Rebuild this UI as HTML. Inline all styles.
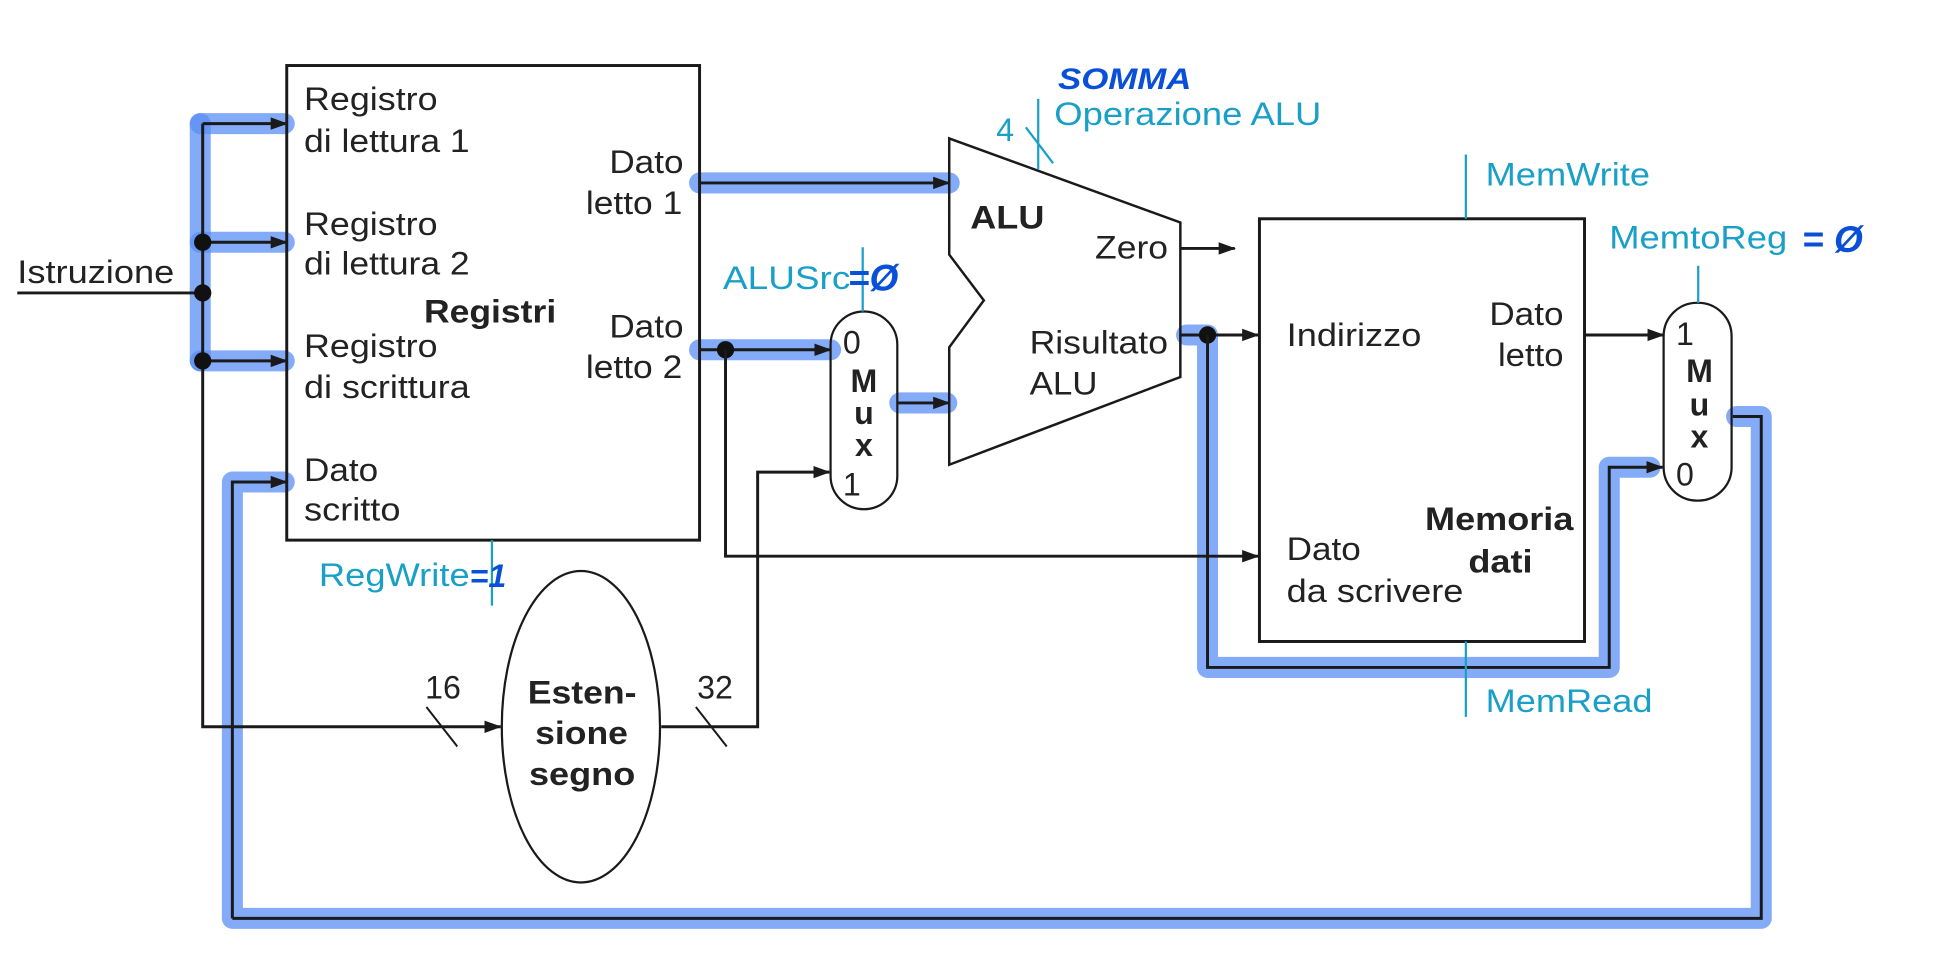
<!DOCTYPE html>
<html><head><meta charset="utf-8"><style>
html,body{margin:0;padding:0;background:#fff;width:1938px;height:971px;overflow:hidden}
svg{display:block}
text{font-family:"Liberation Sans",sans-serif;font-size:26px;fill:#222}
.b{font-weight:bold}
.c{fill:#1aa0c8}
.h{fill:#0a4fd8;font-weight:bold;font-style:italic}
.hl{stroke:#5b8ff5;stroke-opacity:.75;stroke-width:17;fill:none;stroke-linecap:round;stroke-linejoin:round}
.ln{stroke:#1a1a1a;stroke-width:2.4;fill:none}
.ct{stroke:#1aa0c8;stroke-width:1.8;fill:none}
</style></head><body>
<svg width="1938" height="971" viewBox="0 0 1568 785.6" xmlns="http://www.w3.org/2000/svg">
<defs><marker id="a" markerWidth="14" markerHeight="12" refX="13" refY="6" orient="auto" markerUnits="userSpaceOnUse"><path d="M0,1 L14,6 L0,11 Z" fill="#1a1a1a"/></marker></defs>

<path class="hl" d="M162,100 L162,292"/>
<path class="hl" d="M162,100 L230,100 M162,196 L230,196 M162,292 L230,292"/>
<path class="hl" d="M188,390 L230,390 M188,390 L188,743 L1425,743 L1425,337 L1405,337"/>
<path class="hl" d="M566,148 L768,148"/>
<path class="hl" d="M566,283 L672,283"/>
<path class="hl" d="M728,326 L766,326"/>
<path class="hl" d="M960,271 L977,271 L977,540 L1302,540 L1302,378 L1335,378"/>

<rect x="232" y="53" width="334" height="384" class="ln"/>
<text x="246" y="89" textLength="108" lengthAdjust="spacingAndGlyphs">Registro</text><text x="246" y="123" textLength="134" lengthAdjust="spacingAndGlyphs">di lettura 1</text>
<text x="246" y="190" textLength="108" lengthAdjust="spacingAndGlyphs">Registro</text><text x="246" y="222" textLength="134" lengthAdjust="spacingAndGlyphs">di lettura 2</text>
<text x="343" y="261" class="b" textLength="107" lengthAdjust="spacingAndGlyphs">Registri</text>
<text x="246" y="289" textLength="108" lengthAdjust="spacingAndGlyphs">Registro</text><text x="246" y="322" textLength="134" lengthAdjust="spacingAndGlyphs">di scrittura</text>
<text x="246" y="389" textLength="60" lengthAdjust="spacingAndGlyphs">Dato</text><text x="246" y="421" textLength="78" lengthAdjust="spacingAndGlyphs">scritto</text>
<text x="493" y="140" textLength="60" lengthAdjust="spacingAndGlyphs">Dato</text><text x="474" y="173" textLength="78" lengthAdjust="spacingAndGlyphs">letto 1</text>
<text x="493" y="273" textLength="60" lengthAdjust="spacingAndGlyphs">Dato</text><text x="474" y="306" textLength="78" lengthAdjust="spacingAndGlyphs">letto 2</text>

<text x="14" y="229" textLength="127" lengthAdjust="spacingAndGlyphs">Istruzione</text>
<path class="ln" d="M14,237 L164,237"/>
<path class="ln" d="M164,100 L164,588 L405,588" marker-end="url(#a)"/>
<path class="ln" d="M164,100 L232,100" marker-end="url(#a)"/>
<path class="ln" d="M164,196 L232,196" marker-end="url(#a)"/>
<path class="ln" d="M164,292 L232,292" marker-end="url(#a)"/>
<circle cx="164" cy="237" r="7" fill="#111"/><circle cx="164" cy="196" r="7" fill="#111"/><circle cx="164" cy="292" r="7" fill="#111"/>
<path class="ln" d="M188,743 L188,390 L232,390" marker-end="url(#a)"/>
<path class="ln" d="M188,743 L1425,743 L1425,337 L1402,337"/>

<path class="ln" d="M345,572 L370,604" style="stroke-width:1.6"/><text x="344" y="565">16</text>
<ellipse cx="470" cy="588" rx="64" ry="126" class="ln" style="stroke-width:1.8"/>
<text x="427" y="569" class="b" textLength="88" lengthAdjust="spacingAndGlyphs">Esten-</text>
<text x="433" y="602" class="b" textLength="75" lengthAdjust="spacingAndGlyphs">sione</text>
<text x="428" y="635" class="b" textLength="86" lengthAdjust="spacingAndGlyphs">segno</text>
<path class="ln" d="M535,588 L613,588 L613,382 L671,382" marker-end="url(#a)"/>
<path class="ln" d="M563,572 L588,604" style="stroke-width:1.6"/><text x="564" y="565">32</text>

<path class="ct" d="M398,437 L398,490"/>
<text x="258" y="474" class="c" textLength="122" lengthAdjust="spacingAndGlyphs">RegWrite</text><text x="380" y="475" class="h" style="font-size:26px">=1</text>

<path class="ln" d="M566,148 L768,148" marker-end="url(#a)"/>
<path class="ln" d="M566,283 L672,283" marker-end="url(#a)"/>
<circle cx="587" cy="283" r="7" fill="#111"/>
<path class="ln" d="M587,283 L587,450 L1018,450" marker-end="url(#a)"/>

<rect x="672" y="252" width="54" height="160" rx="27" class="ln" style="stroke-width:1.8"/>
<path class="ct" d="M698,200 L698,252"/>
<text x="585" y="234" class="c" textLength="103" lengthAdjust="spacingAndGlyphs">ALUSrc</text><text x="686" y="235" class="h" style="font-size:30px">=Ø</text>
<text x="682" y="286">0</text>
<text x="699" y="317" class="b" text-anchor="middle">M</text>
<text x="699" y="343" class="b" text-anchor="middle">u</text>
<text x="699" y="369" class="b" text-anchor="middle">x</text>
<text x="682" y="401">1</text>
<path class="ln" d="M726,326 L768,326" marker-end="url(#a)"/>

<path class="ln" d="M768,112 L955,180 L955,305 L768,376 L768,281 L796,243 L768,206 Z" style="stroke-width:2"/>
<text x="785" y="185" class="b" textLength="60" lengthAdjust="spacingAndGlyphs">ALU</text>
<text x="886" y="209" textLength="59" lengthAdjust="spacingAndGlyphs">Zero</text>
<text x="833" y="286" textLength="112" lengthAdjust="spacingAndGlyphs">Risultato</text><text x="833" y="319" textLength="55" lengthAdjust="spacingAndGlyphs">ALU</text>
<path class="ln" d="M955,201 L999,201" marker-end="url(#a)"/>
<path class="ct" d="M840,80 L840,137 M830,103 L852,132"/>
<text x="806" y="114" class="c">4</text>
<text x="853" y="101" class="c" textLength="216" lengthAdjust="spacingAndGlyphs">Operazione ALU</text>
<text x="856" y="72" class="h" style="font-size:24px" textLength="108" lengthAdjust="spacingAndGlyphs">SOMMA</text>

<path class="ln" d="M955,271 L1018,271" marker-end="url(#a)"/>
<circle cx="977" cy="271" r="7" fill="#111"/>
<path class="ln" d="M977,271 L977,540 L1302,540 L1302,378 L1345,378" marker-end="url(#a)"/>

<rect x="1019" y="177" width="263" height="342" class="ln"/>
<text x="1041" y="280" textLength="109" lengthAdjust="spacingAndGlyphs">Indirizzo</text>
<text x="1205" y="263" textLength="60" lengthAdjust="spacingAndGlyphs">Dato</text><text x="1212" y="296" textLength="53" lengthAdjust="spacingAndGlyphs">letto</text>
<text x="1153" y="429" class="b" textLength="120" lengthAdjust="spacingAndGlyphs">Memoria</text><text x="1188" y="463" class="b" textLength="52" lengthAdjust="spacingAndGlyphs">dati</text>
<text x="1041" y="453" textLength="60" lengthAdjust="spacingAndGlyphs">Dato</text><text x="1041" y="487" textLength="143" lengthAdjust="spacingAndGlyphs">da scrivere</text>
<path class="ct" d="M1186,125 L1186,177 M1186,519 L1186,580"/>
<text x="1202" y="150" class="c" textLength="133" lengthAdjust="spacingAndGlyphs">MemWrite</text>
<text x="1202" y="576" class="c" textLength="135" lengthAdjust="spacingAndGlyphs">MemRead</text>
<path class="ln" d="M1282,271 L1346,271" marker-end="url(#a)"/>

<rect x="1346" y="245" width="55" height="160" rx="27" class="ln" style="stroke-width:1.8"/>
<path class="ct" d="M1374,215 L1374,245"/>
<text x="1302" y="201" class="c" textLength="144" lengthAdjust="spacingAndGlyphs">MemtoReg</text><text x="1458" y="204" class="h" style="font-size:30px">= Ø</text>
<text x="1356" y="279">1</text>
<text x="1375" y="309" class="b" text-anchor="middle">M</text>
<text x="1375" y="336" class="b" text-anchor="middle">u</text>
<text x="1375" y="362" class="b" text-anchor="middle">x</text>
<text x="1356" y="393">0</text>
</svg>
</body></html>
